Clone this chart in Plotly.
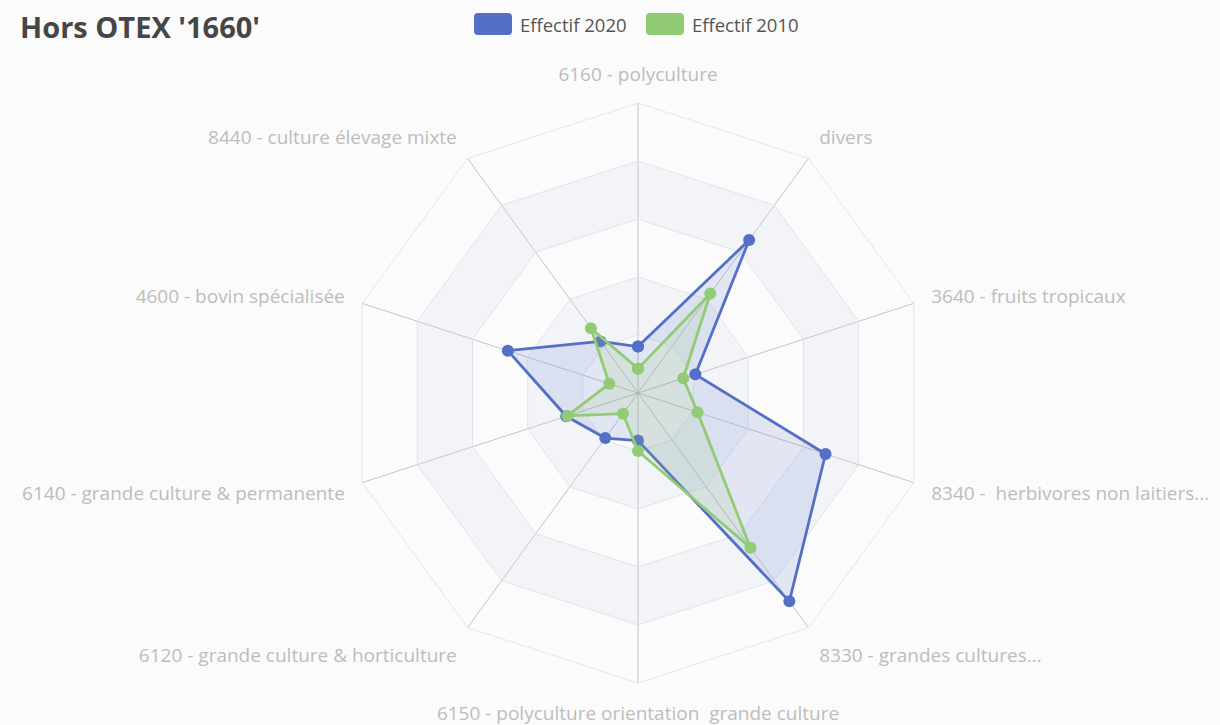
import plotly.graph_objects as go

categories = [
    "6160 - polyculture",
    "divers",
    "3640 - fruits tropicaux",
    "8340 - \u00a0herbivores non laitiers...",
    "8330 - grandes cultures...",
    "6150 - polyculture orientation \u00a0grande culture",
    "6120 - grande culture & horticulture",
    "6140 - grande culture & permanente",
    "4600 - bovin spécialisée",
    "8440 - culture élevage mixte",
]
effectif_2020 = [40, 163, 52, 170, 222, 41, 48, 65, 118, 55]
effectif_2010 = [21, 106, 41, 54, 165, 50, 22, 64, 26, 69]
radial_max = 250
ring_step = 50

BLUE = "#5470c6"
GREEN = "#91cc75"
BG = "#fbfbfb"

fig = go.Figure()

# alternating split areas (rings 2 and 4 shaded)
for inner in (ring_step, 3 * ring_step):
    outer = inner + ring_step
    th = categories + [categories[0]] + [categories[0]] + categories[::-1]
    rr = [outer] * (len(categories) + 1) + [inner] * (len(categories) + 1)
    fig.add_trace(go.Scatterpolar(
        r=rr, theta=th, mode="lines", fill="toself",
        fillcolor="rgba(210,219,238,0.22)", line=dict(width=0),
        hoverinfo="skip", showlegend=False))

for name, vals, col, fc in [
    ("Effectif 2020", effectif_2020, BLUE, "rgba(84,112,198,0.15)"),
    ("Effectif 2010", effectif_2010, GREEN, "rgba(145,204,117,0.15)"),
]:
    fig.add_trace(go.Scatterpolar(
        r=vals + [vals[0]], theta=categories + [categories[0]],
        mode="lines+markers", name=name, fill="toself", fillcolor=fc,
        line=dict(color=col, width=2.8), marker=dict(color=col, size=12),
        showlegend=False))

fig.update_layout(
    width=1220, height=725,
    paper_bgcolor=BG, plot_bgcolor=BG,
    margin=dict(l=0, r=0, t=0, b=0),
    font=dict(family="Open Sans, Noto Sans, sans-serif"),
    polar=dict(
        domain=dict(x=[(638 - 290) / 1220, (638 + 290) / 1220],
                    y=[(332 - 290) / 725, (332 + 290) / 725]),
        bgcolor=BG,
        gridshape="linear",
        radialaxis=dict(range=[0, radial_max], dtick=ring_step, showticklabels=False,
                        ticks="", showline=False, gridcolor="#e0e6f1", gridwidth=1),
        angularaxis=dict(type="category", categoryarray=categories,
                         direction="clockwise", rotation=90,
                         showline=True, linecolor="#e0e6f1", linewidth=1,
                         gridcolor="#c4c4c4", gridwidth=1,
                         ticks="outside", ticklen=14, tickcolor="rgba(0,0,0,0)",
                         tickfont=dict(size=19, color="#bdbdbd")),
    ),
)

# title
fig.add_annotation(text="<b>Hors OTEX '1660'</b>", xref="paper", yref="paper",
                   x=18 / 1220, y=1 - 26 / 725, xanchor="left", yanchor="middle",
                   showarrow=False, font=dict(size=29, color="#464646"))

# legend (rounded icons + labels)
def rrect(x0, y0, x1, y1, r=4):
    W, H = 1220, 725
    fx = lambda v: v / W
    fy = lambda v: 1 - v / H
    return (f"M {fx(x0+r)} {fy(y0)} L {fx(x1-r)} {fy(y0)} Q {fx(x1)} {fy(y0)} {fx(x1)} {fy(y0+r)} "
            f"L {fx(x1)} {fy(y1-r)} Q {fx(x1)} {fy(y1)} {fx(x1-r)} {fy(y1)} "
            f"L {fx(x0+r)} {fy(y1)} Q {fx(x0)} {fy(y1)} {fx(x0)} {fy(y1-r)} "
            f"L {fx(x0)} {fy(y0+r)} Q {fx(x0)} {fy(y0)} {fx(x0+r)} {fy(y0)} Z")

for x0, col, label in [(474, BLUE, "Effectif 2020"), (646, GREEN, "Effectif 2010")]:
    fig.add_shape(type="path", xref="paper", yref="paper", path=rrect(x0, 13, x0 + 38, 35),
                  fillcolor=col, line=dict(width=0))
    fig.add_annotation(text=label, xref="paper", yref="paper", x=(x0 + 44) / 1220,
                       y=1 - 24 / 725, xanchor="left", yanchor="middle", showarrow=False,
                       font=dict(size=18.5, color="#555555"))

fig.write_html("out.html", config={"displayModeBar": False},
               post_script="document.body.style.margin='0';document.body.style.background='#fbfbfb';document.body.style.overflow='hidden';")
